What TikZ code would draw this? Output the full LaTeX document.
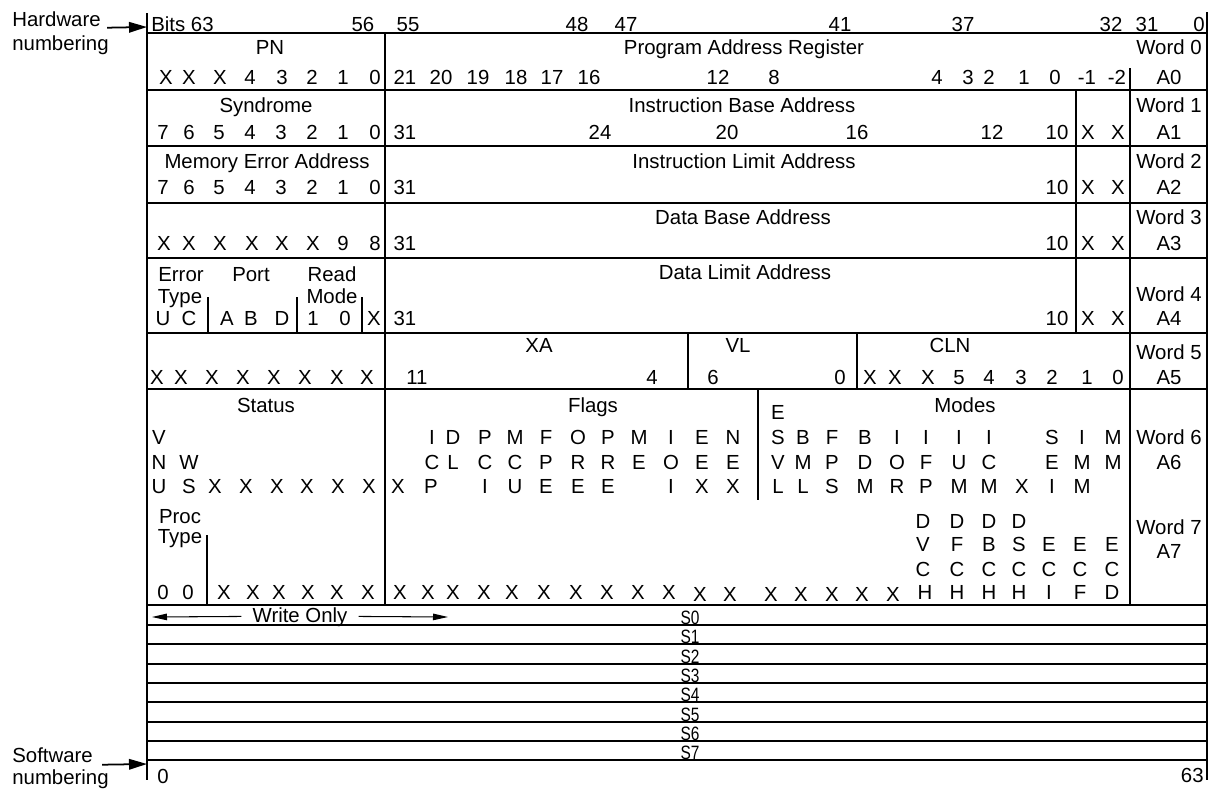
\documentclass[tikz,border=0pt]{standalone}
\usepackage{fontspec}
\setmainfont{Liberation Sans}
\usepackage{graphicx}
\usetikzlibrary{arrows.meta}

\begin{document}
\begin{tikzpicture}[x=0.02cm,y=-0.02cm,
  font=\fontsize{11.6}{13}\selectfont,
  every node/.style={inner sep=0pt},
  lbl/.style={anchor=base,yshift=-0.4pt},
  rule/.style={line width=1.2pt},
  part/.style={line width=1.1pt},
  numarrow/.style={line width=1pt,-{Triangle[length=0.36cm,width=0.21cm]}},
  woarrow/.style={line width=0.6pt,-{Triangle[length=0.3cm,width=0.13cm]}},
  sname/.style={anchor=base,font=\fontsize{11}{12}\selectfont}]
\useasboundingbox (0,0) rectangle (1211,789);

% frame and rows
\draw[rule] (147,13) -- (147,780);
\draw[rule] (1207,12) -- (1207,780);
\foreach \y in {33,90,146,203,258,333,389,605,625,644,664,683,702,722,741,760}
  \draw[rule] (147,\y) -- (1207,\y);
\draw[rule] (385,33) -- (385,605);
\draw[rule] (1130,68) -- (1130,605);
\draw[rule] (1076,90) -- (1076,333);
\draw[rule] (688,333) -- (688,389);
\draw[rule] (857,333) -- (857,389);
\draw[rule] (758,389) -- (758,500);
\draw[part] (207,535) -- (207,605);
\foreach \x in {208,297,362}
  \draw[part] (\x,297) -- (\x,333);

% numbering
\node[lbl,anchor=base west] (hw) at (12,26) {Hardware};
\node[lbl,anchor=base west] (hwn) at (12,50) {numbering};
\coordinate (hwtip) at (147,27);
\draw[numarrow] (hw.base east) ++(6,1) -- (hwtip);
\node[lbl,anchor=base west] (sw) at (12,762) {Software};
\node[lbl,anchor=base west] (swn) at (12,784) {numbering};
\coordinate (swtip) at (147,764);
\draw[numarrow] (sw.base east) ++(9,2) -- (swtip);
\node[lbl,anchor=base west] (bits) at (151,31) {Bits 63};
\foreach \x/\t in {363/56,408/55,577/48,626/47,840/41,963/37,1111/32,1147/31}
  \node[lbl] (hb\x) at (\x,31) {\t};
\node[lbl,anchor=base east] (hb0) at (1205,31) {0};
\node[lbl] (sb0) at (163,783) {0};
\node[lbl,anchor=base east] (sb63) at (1204,782) {63};

% word column
\foreach \r/\y in {0/54,1/112,2/168,3/224,4/301,5/359,6/444,7/534}
  \node[lbl] (w\r) at (1169,\y) {Word \r};
\foreach \r/\y in {0/84,1/139,2/194,3/250,4/325,5/384,6/469,7/558}
  \node[lbl] (a\r) at (1169,\y) {A\r};

% word 0
\node[lbl] (pn) at (270,54) {PN};
\foreach \x/\t in {166/X,189/X,220/X,250/4,282/3,312/2,343/1,375/0}
  \node[lbl] (pn\x) at (\x,84) {\t};
\node[lbl] (par) at (744,54) {Program Address Register};
\foreach \x/\t in {405/21,441/20,478/19,516/18,552/17,589/16,718/12,774/8,937/4,968/3,989/2,1024/1,1055/0,1087/-1,1117/-2}
  \node[lbl] (par\x) at (\x,84) {\t};

% word 1
\node[lbl] (syn) at (266,112) {Syndrome};
\foreach \x/\t in {163/7,189/6,219/5,250/4,281/3,312/2,343/1,375/0}
  \node[lbl] (syn\x) at (\x,139) {\t};
\node[lbl] (iba) at (742,112) {Instruction Base Address};
\foreach \x/\t in {405/31,600/24,727/20,857/16,992/12,1057/10,1088/X,1118/X}
  \node[lbl] (iba\x) at (\x,139) {\t};

% word 2
\node[lbl] (mea) at (267,168) {Memory Error Address};
\foreach \x/\t in {163/7,189/6,219/5,250/4,281/3,312/2,343/1,375/0}
  \node[lbl] (mea\x) at (\x,194) {\t};
\node[lbl] (ila) at (744,168) {Instruction Limit Address};
\foreach \x/\t in {405/31,1057/10,1088/X,1118/X}
  \node[lbl] (ila\x) at (\x,194) {\t};

% word 3
\foreach \x/\t in {164/X,189/X,220/X,252/X,282/X,313/X,343/9,375/8}
  \node[lbl] (w3l\x) at (\x,250) {\t};
\node[lbl] (dba) at (743,224) {Data Base Address};
\foreach \x/\t in {405/31,1057/10,1088/X,1118/X}
  \node[lbl] (dba\x) at (\x,250) {\t};

% word 4
\node[lbl] (err) at (181,281) {Error};
\node[lbl] (typ) at (180,303) {Type};
\node[lbl] (port) at (251,281) {Port};
\node[lbl] (read) at (332,281) {Read};
\node[lbl] (mode) at (332,303) {Mode};
\foreach \x/\t in {163/U,189/C,227/A,251/B,282/D,313/1,345/0,374/X}
  \node[lbl] (w4l\x) at (\x,325) {\t};
\node[lbl] (dla) at (745,279) {Data Limit Address};
\foreach \x/\t in {405/31,1057/10,1088/X,1118/X}
  \node[lbl] (dla\x) at (\x,325) {\t};

% word 5
\foreach \x in {157,181,212,243,274,305,337,367}
  \node[lbl] (w5l\x) at (\x,384) {X};
\node[lbl] (xa) at (539,352) {XA};
\node[lbl] (vl) at (738,352) {VL};
\node[lbl] (cln) at (950,352) {CLN};
\foreach \x/\t in {417/11,652/4,713/6,840/0,870/X,895/X,928/X,959/5,989/4,1021/3,1052/2,1087/1,1118/0}
  \node[lbl] (w5r\x) at (\x,384) {\t};

% word 6
\node[lbl] (stat) at (266,412) {Status};
\node[lbl] (flags) at (593,412) {Flags};
\node[lbl] (modes) at (965,412) {Modes};
\node[lbl] (esv) at (778,419) {E};
\foreach \x/\t in {159/V,432/I,453/D,485/P,515/M,546/F,578/O,608/P,639/M,671/I,702/E,733/N,778/S,803/B,832/F,865/B,897/I,926/I,959/I,989/I,1052/S,1082/I,1113/M}
  \node[lbl] (f1\x) at (\x,444) {\t};
\foreach \x/\t in {159/N,189/W,432/C,453/L,485/C,515/C,546/P,578/R,608/R,639/E,671/O,702/E,733/E,778/V,803/M,832/P,865/D,897/O,926/F,959/U,989/C,1052/E,1082/M,1113/M}
  \node[lbl] (f2\x) at (\x,469) {\t};
\foreach \x/\t in {159/U,189/S,215/X,246/X,277/X,307/X,338/X,369/X,398/X,431/P,485/I,515/U,546/E,578/E,608/E,671/I,702/X,733/X,778/L,803/L,832/S,865/M,897/R,926/P,959/M,989/M,1022/X,1052/I,1082/M}
  \node[lbl] (f3\x) at (\x,493) {\t};

% word 7
\node[lbl] (proc) at (180,523) {Proc};
\node[lbl] (ptyp) at (180,543) {Type};
\foreach \x in {923,957,989,1019}
  \node[lbl] (g1\x) at (\x,528) {D};
\foreach \x/\t in {923/V,957/F,989/B,1019/S,1049/E,1080/E,1112/E}
  \node[lbl] (g2\x) at (\x,551) {\t};
\foreach \x in {923,957,989,1019,1049,1080,1112}
  \node[lbl] (g3\x) at (\x,576) {C};
\foreach \x/\t in {163/0,188/0,224/X,253/X,279/X,308/X,337/X,368/X,400/X,428/X,453/X,484/X,512/X,544/X,576/X,607/X,638/X,669/X,925/H,957/H,989/H,1019/H,1049/I,1080/F,1112/D}
  \node[lbl] (g4\x) at (\x,599) {\t};
\foreach \x in {700,730,771,801,832,862,893}
  \node[lbl] (g5\x) at (\x,601) {X};

% shadow registers
\node[lbl] (wo) at (300,622) {Write Only};
\coordinate (woL) at (152,617);
\coordinate (woR) at (448,617);
\draw[woarrow] (wo.west) ++(-11,-1) -- (woL);
\draw[woarrow] (wo.east) ++(11,-1) -- (woR);
\foreach \i/\y in {0/624,1/643,2/663,3/682,4/701,5/721,6/740,7/759}
  \node[sname] (s\i) at (690,\y) {\scalebox{0.8}[1]{S\i}};
\end{tikzpicture}
\end{document}
